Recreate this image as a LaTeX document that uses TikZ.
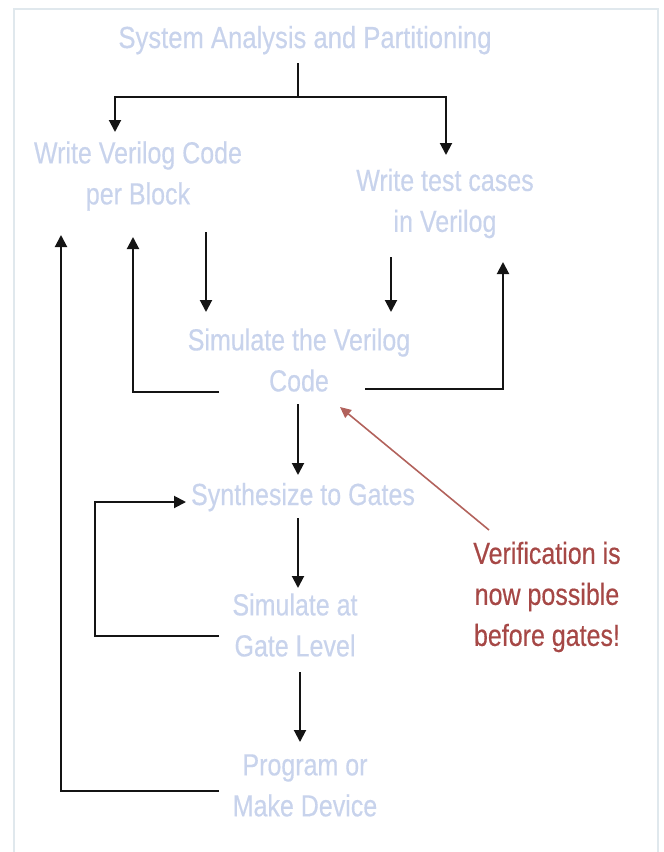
\documentclass[tikz,border=0pt]{standalone}
\usepackage{fontspec}
\usetikzlibrary{arrows.meta}
\newfontfamily\diagfont[FakeStretch=0.82,FakeBold=0.4]{Liberation Sans}
\newfontfamily\titlefont[FakeStretch=0.84,FakeBold=0.4]{Liberation Sans}
\definecolor{stepblue}{RGB}{200,211,236}
\definecolor{noteRed}{RGB}{166,72,70}
\definecolor{noteLine}{RGB}{178,98,92}
\definecolor{frameGray}{RGB}{224,232,237}
\definecolor{lineBlack}{RGB}{20,20,20}
\tikzset{
  stepbox/.style={inner sep=0pt, align=center, text=stepblue,
    font=\diagfont\fontsize{30.5}{41}\selectfont},
  notebox/.style={inner sep=0pt, align=center, text=noteRed,
    font=\diagfont\fontsize{30.5}{41}\selectfont},
  flow/.style={draw=lineBlack, line width=2pt, line join=miter},
  flowarrow/.style={flow, -{Triangle[length=12pt,width=12pt]}},
  notearrow/.style={draw=noteLine, line width=1.6pt, -{Triangle[length=11pt,width=10pt]}},
}
\begin{document}
\begin{tikzpicture}[x=1pt,y=-1pt]
\useasboundingbox (0,0) rectangle (664,852);
% frame
\draw[frameGray, line width=1.5pt] (14,852) -- (14,9) -- (658,9) -- (658,852);

% nodes
\node[stepbox, font=\titlefont\fontsize{30.5}{41}\selectfont, anchor=base] (title) at (305,48) {System Analysis and Partitioning};
\node[stepbox] (wv) at (138,176) {Write Verilog Code\\per Block};
\node[stepbox] (wt) at (445,203.5) {Write test cases\\in Verilog};
\node[stepbox] (sv) at (299,360) {Simulate the Verilog\\Code};
\node[stepbox, anchor=base] (sg) at (303,505) {Synthesize to Gates};
\node[stepbox] (gl) at (295,625) {Simulate at\\Gate Level};
\node[stepbox] (pd) at (305,785.5) {Program or\\Make Device};
\node[notebox] (note) at (547,597) {Verification is\\now possible\\before gates!};

% coordinates
\coordinate (t0) at (298,63);
\coordinate (tm) at (298,97);
\coordinate (tl) at (115,97);
\coordinate (tr) at (446,97);
\coordinate (wvTip) at (115,132);
\coordinate (wtTip) at (446,155);
\coordinate (wvOut) at (206,232);
\coordinate (wvIn) at (206,312);
\coordinate (wtOut) at (391,257);
\coordinate (wtIn) at (391,312);
\coordinate (svL) at (219,392);
\coordinate (svLc) at (133,392);
\coordinate (svLtip) at (133,237);
\coordinate (svR) at (365,389);
\coordinate (svRc) at (503,389);
\coordinate (svRtip) at (503,262);
\coordinate (svOut) at (298,404);
\coordinate (sgIn) at (298,475);
\coordinate (sgOut) at (298,518);
\coordinate (glIn) at (298,588);
\coordinate (glL) at (219,636);
\coordinate (glLc) at (95,636);
\coordinate (glLt) at (95,502);
\coordinate (sgTip) at (186,502);
\coordinate (glOut) at (300,672);
\coordinate (pdIn) at (300,742);
\coordinate (pdL) at (219,791);
\coordinate (pdLc) at (61,791);
\coordinate (pdTip) at (61,235);
\coordinate (noteOut) at (489,530);
\coordinate (noteTip) at (340,407);

% connectors
\draw[flow] (t0) -- (tm);
\draw[flowarrow] (tm) -- (tl) -- (wvTip);
\draw[flowarrow] (tm) -- (tr) -- (wtTip);
\draw[flowarrow] (wvOut) -- (wvIn);
\draw[flowarrow] (wtOut) -- (wtIn);
\draw[flowarrow] (svL) -- (svLc) -- (svLtip);
\draw[flowarrow] (svR) -- (svRc) -- (svRtip);
\draw[flowarrow] (svOut) -- (sgIn);
\draw[flowarrow] (sgOut) -- (glIn);
\draw[flowarrow] (glL) -- (glLc) -- (glLt) -- (sgTip);
\draw[flowarrow] (glOut) -- (pdIn);
\draw[flowarrow] (pdL) -- (pdLc) -- (pdTip);
\draw[notearrow] (noteOut) -- (noteTip);
\end{tikzpicture}
\end{document}
